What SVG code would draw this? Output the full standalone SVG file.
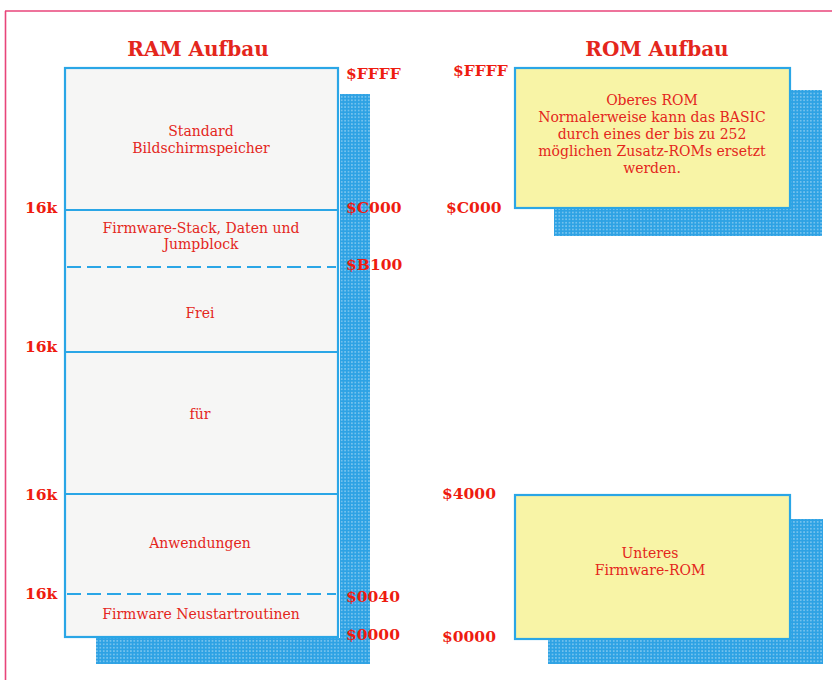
<svg xmlns="http://www.w3.org/2000/svg" width="832" height="680" viewBox="0 0 832 680">
<defs>
<pattern id="dots" width="3.4" height="3.4" patternUnits="userSpaceOnUse">
<rect width="3.4" height="3.4" fill="#2ea2e4"/>
<circle cx="1.7" cy="1.7" r="0.7" fill="#ffffff" fill-opacity="0.75"/>
</pattern>
<style>
.t{font-family:"DejaVu Serif","Liberation Serif",serif;font-size:14px;fill:#e4261c;text-anchor:middle}
.h{font-family:"DejaVu Serif","Liberation Serif",serif;font-size:20px;font-weight:bold;fill:#e4261c;text-anchor:middle}
.a{font-family:"DejaVu Serif","Liberation Serif",serif;font-size:15.5px;font-weight:bold;fill:#ee1c10}
.box{stroke:#2aa6e6;stroke-width:2.2}
.ln{stroke:#2aa6e6;stroke-width:2.2;fill:none}
.dash{stroke:#2aa6e6;stroke-width:2;stroke-dasharray:14,6;fill:none}
.sh{fill:url(#dots)}
</style>
</defs>
<rect width="832" height="680" fill="#ffffff"/>
<g id="frame">
<line x1="5.5" y1="11" x2="5.5" y2="680" stroke="#e8457a" stroke-width="1.6"/>
<line x1="5" y1="11" x2="832" y2="11" stroke="#e8457a" stroke-width="1.6"/>
</g>
<g id="ram">
<text class="h" x="198" y="56">RAM Aufbau</text>
<rect class="sh" x="340" y="94" width="30" height="570"/>
<rect class="sh" x="96" y="638" width="274" height="26"/>
<rect class="box" x="65" y="68" width="273" height="569" fill="#f6f6f5"/>
<line class="ln" x1="65" y1="210" x2="338" y2="210"/>
<line class="dash" x1="67" y1="267" x2="336" y2="267"/>
<line class="ln" x1="65" y1="352" x2="338" y2="352"/>
<line class="ln" x1="65" y1="494" x2="338" y2="494"/>
<line class="dash" x1="67" y1="594" x2="336" y2="594"/>
<text class="t" x="201" y="136">Standard</text>
<text class="t" x="201" y="153">Bildschirmspeicher</text>
<text class="t" x="201" y="233">Firmware-Stack, Daten und</text>
<text class="t" x="201" y="249">Jumpblock</text>
<text class="t" x="200" y="318">Frei</text>
<text class="t" x="200" y="419">für</text>
<text class="t" x="200" y="548">Anwendungen</text>
<text class="t" x="201" y="619">Firmware Neustartroutinen</text>
</g>
<g id="ram-labels">
<text class="a" x="346" y="79">$FFFF</text>
<text class="a" x="346" y="213">$C000</text>
<text class="a" x="346" y="270">$B100</text>
<text class="a" x="346" y="602">$0040</text>
<text class="a" x="346" y="640">$0000</text>
<text class="a" x="25" y="213">16k</text>
<text class="a" x="25" y="352">16k</text>
<text class="a" x="25" y="500">16k</text>
<text class="a" x="25" y="599">16k</text>
</g>
<g id="rom-top">
<text class="h" x="657" y="56">ROM Aufbau</text>
<rect class="sh" x="554" y="90" width="268" height="146"/>
<rect class="box" x="515" y="68" width="275" height="140" fill="#f8f4a6"/>
<text class="t" x="652" y="105">Oberes ROM</text>
<text class="t" x="652" y="122">Normalerweise kann das BASIC</text>
<text class="t" x="652" y="139">durch eines der bis zu 252</text>
<text class="t" x="652" y="156">möglichen Zusatz-ROMs ersetzt</text>
<text class="t" x="652" y="173">werden.</text>
<text class="a" x="453" y="76">$FFFF</text>
<text class="a" x="446" y="213">$C000</text>
</g>
<g id="rom-bottom">
<rect class="sh" x="548" y="519" width="275" height="145"/>
<rect class="box" x="515" y="495" width="275" height="144" fill="#f8f4a6"/>
<text class="t" x="650" y="558">Unteres</text>
<text class="t" x="650" y="575">Firmware-ROM</text>
<text class="a" x="442" y="499">$4000</text>
<text class="a" x="442" y="642">$0000</text>
</g>
</svg>
